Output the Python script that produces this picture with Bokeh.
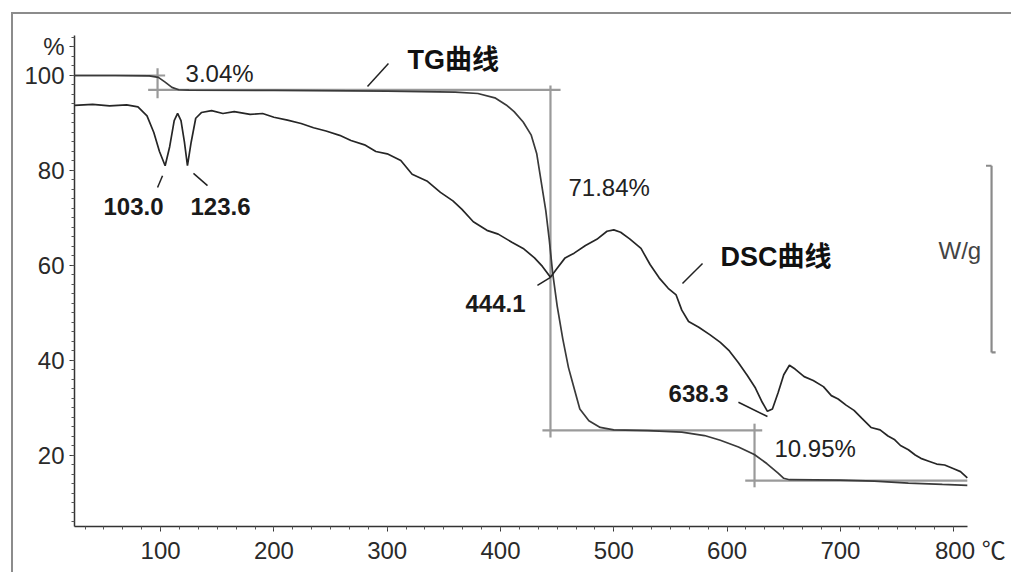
from bokeh.plotting import figure
from bokeh.models import FixedTicker, Range1d
from bokeh.core.properties import value
from bokeh.embed import file_html
from bokeh.resources import INLINE

# ---------------- data ----------------
# TG curve (mass %, vs temperature in degC)
tg_temp = [24, 60, 90, 98, 104, 110, 116, 125, 200, 300, 360, 380, 395, 405, 412, 420,
           427, 432, 436, 440, 443, 446, 450, 455, 460, 464, 470, 478, 488, 500, 530,
           560, 580, 594, 610, 624, 635, 645, 650, 655, 700, 730, 760, 790, 812]
tg_pct = [100.0, 100.0, 99.9, 99.6, 98.6, 97.5, 97.0, 96.9, 96.85, 96.7, 96.5, 96.2, 95.3,
          93.8, 92.4, 90.2, 87.5, 83.5, 77.5, 71.5, 65.5, 58.5, 51.5, 44.5, 38.5, 35.0,
          29.8, 27.3, 25.9, 25.4, 25.25, 24.9, 24.2, 23.2, 21.8, 20.2, 18.3, 16.3, 15.2,
          14.9, 14.8, 14.6, 14.2, 13.9, 13.7]

# DSC curve (signal drawn on the same vertical scale, arbitrary W/g)
dsc_temp = [24, 40, 55, 70, 80, 88, 94, 99, 104, 108, 112, 115, 118, 121, 123.7, 127, 131,
            136, 145, 155, 165, 179, 190, 200, 212, 224, 235, 246, 258, 268, 280, 290, 300,
            312, 322, 335, 347, 358, 366, 376, 388, 398, 410, 420, 430, 437, 444.1, 450,
            457, 465, 475, 485, 494, 500, 506, 514, 524, 532, 540, 548, 555, 560, 566, 575,
            585, 594, 602, 610, 618, 625, 631, 635.6, 640, 645, 650, 655, 660, 668, 676,
            685, 692, 698, 705, 712, 719, 727, 735, 742, 748, 753, 760, 766, 771, 778, 785,
            792, 800, 806, 812]
dsc_signal = [93.7, 93.9, 93.6, 93.8, 93.4, 91.5, 88.0, 84.0, 81.0, 85.0, 90.5, 92.0, 90.5,
              86.0, 81.0, 86.0, 91.0, 92.2, 92.6, 92.0, 92.4, 91.8, 92.0, 91.2, 90.6, 89.9,
              89.0, 88.3, 87.4, 86.3, 85.4, 84.0, 83.5, 82.1, 79.2, 77.8, 75.4, 73.6, 71.8,
              69.2, 67.4, 66.6, 64.9, 63.6, 61.6, 59.8, 57.5, 59.4, 61.6, 62.6, 64.2, 65.5,
              67.2, 67.5, 67.0, 65.6, 63.6, 60.2, 57.4, 55.2, 53.8, 50.6, 48.2, 47.0, 45.4,
              43.8, 42.0, 39.5, 36.8, 34.2, 31.2, 29.3, 29.8, 33.2, 37.0, 39.0, 38.2, 36.6,
              35.8, 34.5, 32.6, 31.9, 30.6, 29.5, 27.8, 25.9, 25.4, 24.1, 23.3, 22.1, 21.2,
              20.1, 19.4, 18.8, 18.2, 18.0, 17.2, 16.6, 15.3]

x_ticks = [100, 200, 300, 400, 500, 600, 700, 800]
y_ticks = [20, 40, 60, 80, 100]
y_unit = "%"
x_unit = "℃"

# step-evaluation construction lines (TG)
step_x0 = [24, 97.3, 89, 444.1, 437, 624.2, 616]
step_y0 = [100, 101.5, 96.96, 97.9, 25.3, 26.7, 14.7]
step_x1 = [104, 97.3, 453, 444.1, 631, 624.2, 812]
step_y1 = [100, 95.2, 96.96, 23.8, 25.3, 13.3, 14.7]

# mass-loss labels
loss_text = ["3.04%", "71.84%", "10.95%"]
loss_x = [122, 460, 641.8]
loss_y = [100.4, 76.4, 21.5]

# peak temperature labels
peak_text = ["103.0", "123.6", "444.1", "638.3"]
peak_x = [49.6, 126.4, 369.1, 548.3]
peak_y = [72.4, 72.4, 52.0, 33.05]

# curve name labels
curve_text = ["TG曲线", "DSC曲线"]
curve_x = [317.9, 594.2]
curve_y = [103.2, 61.7]

# leader lines
lead_x0 = [282.6, 101.7, 129.0, 432.6, 578.3, 610.0]
lead_y0 = [97.7, 78.9, 79.4, 55.8, 60.4, 31.2]
lead_x1 = [301.1, 97.3, 141.4, 444.1, 560.6, 635.6]
lead_y1 = [102.5, 76.4, 76.8, 57.5, 56.2, 28.2]

# W/g bracket
wg_x0 = [833.4, 828.5, 833.4]
wg_y0 = [81.0, 81.0, 41.7]
wg_x1 = [833.4, 833.4, 837.0]
wg_y1 = [41.7, 81.0, 41.7]

FONT = "Liberation Sans"
CJK = "Liberation Sans, Noto Sans CJK SC"

p = figure(width=1000, height=560, output_backend="svg", toolbar_location=None,
           x_range=Range1d(24, 841.3), y_range=Range1d(5.05, 110.1),
           min_border_left=61, min_border_right=13, min_border_top=13, min_border_bottom=48)
p.styles = {"border-top": "2px solid #8c8c8c", "border-left": "2px solid #8c8c8c",
            "margin-left": "11px", "margin-top": "12px"}
p.outline_line_color = None
p.xgrid.visible = False
p.ygrid.visible = False
p.background_fill_color = "white"
p.border_fill_color = "white"

# axes
minor_x = [i * 100 / 6 for i in range(2, 49) if 24 < i * 100 / 6 <= 812]
p.xaxis.ticker = FixedTicker(ticks=x_ticks, minor_ticks=minor_x)
p.xaxis.bounds = (24, 812)
p.xaxis.major_label_overrides = {800: "\u2007\u2007\u00a0800\u00a0" + x_unit}
minor_y = [v for v in range(6, 109, 2)]
p.yaxis.ticker = FixedTicker(ticks=y_ticks + [106], minor_ticks=minor_y)
p.yaxis.major_label_overrides = {106: y_unit}
p.yaxis.bounds = (5.05, 108.4)
for ax in (p.xaxis[0], p.yaxis[0]):
    ax.axis_line_color = "#333333"
    ax.axis_line_width = 1.5
    ax.major_tick_line_color = "#333333"
    ax.minor_tick_line_color = "#555555"
    ax.major_tick_in = 0
    ax.major_tick_out = 5
    ax.minor_tick_in = 0
    ax.minor_tick_out = 3
    ax.major_label_text_font = CJK
    ax.major_label_text_font_size = "24px"
    ax.major_label_text_color = "#2a2a2a"
    ax.major_label_standoff = 5

# construction lines
p.segment(x0=step_x0, y0=step_y0, x1=step_x1, y1=step_y1, line_color="#9a9a9a", line_width=2.2)
p.segment(x0=wg_x0, y0=wg_y0, x1=wg_x1, y1=wg_y1, line_color="#8a8a8a", line_width=2.2)

# curves
p.line(tg_temp, tg_pct, line_color="#3a3a3a", line_width=1.7)
p.line(dsc_temp, dsc_signal, line_color="#262626", line_width=1.7)

# leader lines
p.segment(x0=lead_x0, y0=lead_y0, x1=lead_x1, y1=lead_y1, line_color="#222222", line_width=1.5)

# texts
p.text(x=loss_x, y=loss_y, text=loss_text, text_font=value(FONT), text_font_size="24px",
       text_color="#222222", text_align="left", text_baseline="middle")
p.text(x=peak_x, y=peak_y, text=peak_text, text_font=value(FONT), text_font_size="24px",
       text_font_style="bold", text_color="#1a1a1a", text_align="left", text_baseline="middle")
p.text(x=curve_x, y=curve_y, text=curve_text, text_font=value(CJK), text_font_size="27px",
       text_font_style="bold", text_color="#111111", text_align="left", text_baseline="middle")
p.text(x=[786.6], y=[63.2], text=["W/g"], text_font=value(FONT), text_font_size="24px",
       text_color="#444444", text_align="left", text_baseline="middle")

open("out.html", "w").write(file_html(p, INLINE))
